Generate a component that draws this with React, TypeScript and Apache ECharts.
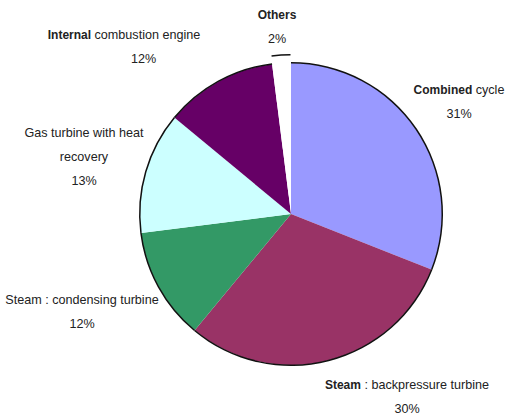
import React, { useEffect, useRef } from "react";
import * as echarts from "echarts";

// Share of installed capacity by technology (%)
const categories = [
  "Combined cycle",
  "Steam : backpressure turbine",
  "Steam : condensing turbine",
  "Gas turbine with heat recovery",
  "Internal combustion engine",
  "Others",
];
const shares = [31, 30, 12, 13, 12, 2];
// Bold lead word and regular remainder of each label
const boldWords = ["Combined", "Steam", "", "", "Internal", "Others"];
const plainWords = [
  " cycle",
  " : backpressure turbine",
  "Steam : condensing turbine",
  "Gas turbine with heat\nrecovery",
  " combustion engine",
  "",
];
const sliceColors = ["#9999FF", "#993366", "#339966", "#CCFFFF", "#660066", "#FFFFFF"];
const explodedIndex = 5;

// Label block centres in px
const labelCenters: [number, number][] = [
  [459, 102],
  [407, 397],
  [82, 312],
  [84, 157],
  [124, 47],
  [277, 27],
];

const CENTER = [291, 214];
const R = 151;
const EXPLODE = 8;
const RIM = "#111";

export default function App() {
  const ref = useRef<HTMLDivElement>(null);

  useEffect(() => {
    if (!ref.current) return;
    const chart = echarts.init(ref.current, undefined, { renderer: "svg" });

    // mid-angle of the exploded slice -> offset of its centre
    const total = shares.reduce((a, b) => a + b, 0);
    const before = shares.slice(0, explodedIndex).reduce((a, b) => a + b, 0);
    const midDeg = 90 - ((before + shares[explodedIndex] / 2) / total) * 360;
    const midRad = (midDeg * Math.PI) / 180;
    const explodedCenter = [
      CENTER[0] + EXPLODE * Math.cos(midRad),
      CENTER[1] - EXPLODE * Math.sin(midRad),
    ];

    const formatLabel = (p: any) => {
      const i = p.dataIndex;
      const parts: string[] = [];
      const bodyLines = plainWords[i] ? plainWords[i].split("\n") : [];
      let first = "";
      if (boldWords[i]) first += `{b|${boldWords[i]}}`;
      if (bodyLines.length) first += `{r|${bodyLines[0]}}`;
      parts.push(first);
      for (let k = 1; k < bodyLines.length; k++) parts.push(`{r|${bodyLines[k]}}`);
      const pctStyle = i === 4 ? "q" : "p";
      parts.push(`{${pctStyle}|${shares[i]}%}`);
      return parts.join("\n");
    };

    const textBase = {
      fontFamily: "Liberation Sans, Arial, sans-serif",
      fontSize: 12.6,
      color: "#222",
      lineHeight: 24,
    };

    const common = {
      type: "pie",
      startAngle: 90,
      clockwise: true,
      selectedMode: false,
      silent: true,
      emphasis: { disabled: true },
      labelLine: { show: false },
    };

    chart.setOption({
      animation: false,
      backgroundColor: "#fff",
      series: [
        {
          ...common,
          center: CENTER,
          radius: [0, R],
          itemStyle: { borderWidth: 0 },
          data: categories.map((name, i) => ({
            name,
            value: shares[i],
            itemStyle: { color: sliceColors[i] },
          })),
          label: {
            show: true,
            position: "outside",
            formatter: formatLabel,
            align: "center",
            overflow: "none",
            ...textBase,
            rich: {
              b: { ...textBase, fontSize: 12, fontWeight: "bold" },
              r: { ...textBase },
              p: { ...textBase },
              q: { ...textBase, padding: [0, 0, 0, 39] },
            },
          },
          labelLayout: (params: any) => {
            const c = labelCenters[params.dataIndex];
            return { x: c[0], y: c[1], align: "center", verticalAlign: "middle" };
          },
        },
        {
          // outer rim outline of the seated slices
          ...common,
          center: CENTER,
          radius: [R - 0.5, R + 1],
          label: { show: false },
          itemStyle: { borderWidth: 0 },
          data: categories.map((name, i) => ({
            name,
            value: shares[i],
            itemStyle: { color: i === explodedIndex ? "rgba(0,0,0,0)" : RIM },
          })),
        },
        {
          // rim of the pulled-out slice
          ...common,
          center: explodedCenter,
          radius: [R - 0.5, R + 1],
          label: { show: false },
          itemStyle: { borderWidth: 0 },
          data: categories.map((name, i) => ({
            name,
            value: shares[i],
            itemStyle: { color: i === explodedIndex ? RIM : "rgba(0,0,0,0)" },
          })),
        },
      ],
    });

    return () => chart.dispose();
  }, []);

  return (
    <div
      ref={ref}
      style={{ position: "fixed", left: 0, top: 0, width: 512, height: 419 }}
    />
  );
}
